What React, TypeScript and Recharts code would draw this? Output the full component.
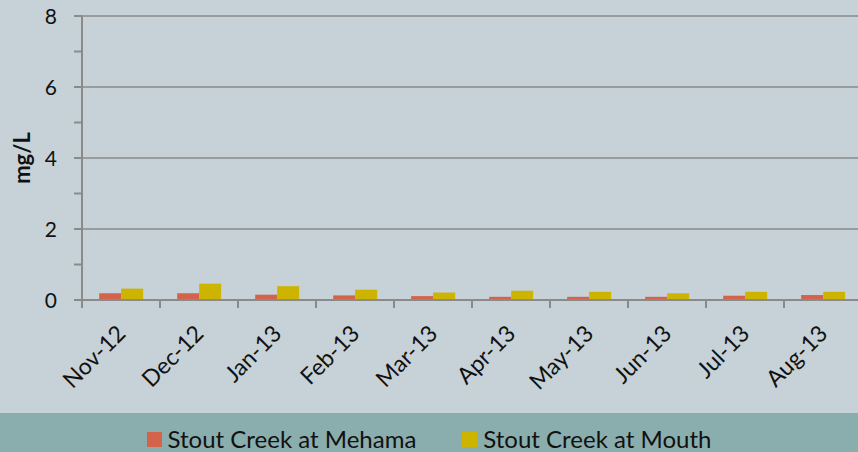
import React from "react";
import {
  BarChart,
  Bar,
  XAxis,
  YAxis,
  CartesianGrid,
  Legend,
} from "recharts";

// monthly samples, mg/L
const months = [
  "Nov-12",
  "Dec-12",
  "Jan-13",
  "Feb-13",
  "Mar-13",
  "Apr-13",
  "May-13",
  "Jun-13",
  "Jul-13",
  "Aug-13",
];
const mehama = [0.19, 0.19, 0.15, 0.13, 0.11, 0.09, 0.09, 0.09, 0.12, 0.14];
const mouth = [0.32, 0.46, 0.39, 0.29, 0.21, 0.26, 0.23, 0.19, 0.23, 0.23];

const yTicks = [0, 1, 2, 3, 4, 5, 6, 7, 8];
const yLabelled = [0, 2, 4, 6, 8];
const gridValues = [2, 4, 6, 8];

const FONT = "Lato, 'Open Sans', sans-serif";
const AXIS = "#8a8a8a";

const data = months.map((m, i) => ({ month: m, mehama: mehama[i], mouth: mouth[i] }));

const YTick = (props: any) => {
  const { x, y, payload } = props;
  if (!yLabelled.includes(payload.value)) return <g />;
  return (
    <text x={x} y={y} dy={8} textAnchor="end" fontSize={21} fill="#111" fontFamily={FONT}>
      {payload.value}
    </text>
  );
};

// category label plus the tick marks on the band edges (Excel style)
const XTick = (props: any) => {
  const { x, y, payload, index, width, visibleTicksCount } = props;
  const band = width / visibleTicksCount;
  const left = x - band / 2;
  const right = x + band / 2;
  const ax = x + 6;
  const ay = y + 35;
  return (
    <g>
      <line x1={left} x2={left} y1={y} y2={y + 8} stroke={AXIS} strokeWidth={2} />
      {index === visibleTicksCount - 1 && (
        <line x1={right} x2={right} y1={y} y2={y + 8} stroke={AXIS} strokeWidth={2} />
      )}
      <text
        x={ax}
        y={ay}
        textAnchor="end"
        fontSize={23}
        fill="#111"
        fontFamily={FONT}
        transform={`rotate(-45, ${ax}, ${ay})`}
      >
        {payload.value}
      </text>
    </g>
  );
};

const LegendBand = (props: any) => {
  const { payload } = props;
  return (
    <div
      style={{
        width: 858,
        height: 39,
        background: "#8aadad",
        display: "flex",
        justifyContent: "center",
        alignItems: "flex-start",
        paddingTop: 14,
        boxSizing: "border-box",
        fontFamily: FONT,
        fontSize: 24,
        lineHeight: "24px",
        color: "#111",
      }}
    >
      {(payload || []).map((p: any, i: number) => (
        <div
          key={p.value}
          style={{ display: "flex", alignItems: "flex-start", marginLeft: i ? 46 : 0 }}
        >
          <span
            style={{
              width: 15,
              height: 15,
              background: p.color,
              marginRight: 6,
              marginTop: 5,
              display: "inline-block",
            }}
          />
          <span>{p.value}</span>
        </div>
      ))}
    </div>
  );
};

const YLabel = (props: any) => {
  const { viewBox } = props;
  const cx = viewBox.x + 22;
  const cy = viewBox.y + viewBox.height / 2;
  return (
    <text
      x={cx}
      y={cy}
      dy={8}
      textAnchor="middle"
      fontSize={22}
      fontWeight="bold"
      fill="#111"
      fontFamily={FONT}
      transform={`rotate(-90, ${cx}, ${cy})`}
    >
      mg/L
    </text>
  );
};

export default function App() {
  return (
    <div
      style={{
        position: "absolute",
        left: 0,
        top: 0,
        width: 858,
        height: 452,
        overflow: "hidden",
        background: "#c6d2d8",
      }}
    >
      <BarChart
        width={858}
        height={452}
        data={data}
        margin={{ top: 16, right: -4, left: 0, bottom: 33 }}
        barGap={0}
        barCategoryGap="22%"
      >
        <CartesianGrid
          vertical={false}
          horizontalValues={gridValues}
          stroke={AXIS}
          strokeWidth={1.5}
        />
        <XAxis
          dataKey="month"
          interval={0}
          height={80}
          tickSize={0}
          tickMargin={0}
          axisLine={{ stroke: AXIS, strokeWidth: 2 }}
          tickLine={false}
          tick={<XTick />}
        />
        <YAxis
          domain={[0, 8]}
          ticks={yTicks}
          width={82}
          tickSize={8}
          tickMargin={17}
          axisLine={{ stroke: AXIS, strokeWidth: 2 }}
          tickLine={{ stroke: AXIS, strokeWidth: 2 }}
          tick={<YTick />}
          label={<YLabel />}
        />
        <Legend
          verticalAlign="bottom"
          wrapperStyle={{ left: 0, bottom: 0, width: 858 }}
          content={<LegendBand />}
        />
        <Bar dataKey="mehama" name="Stout Creek at Mehama" fill="#d4634b" isAnimationActive={false} />
        <Bar dataKey="mouth" name="Stout Creek at Mouth" fill="#ccb400" isAnimationActive={false} />
      </BarChart>
    </div>
  );
}
